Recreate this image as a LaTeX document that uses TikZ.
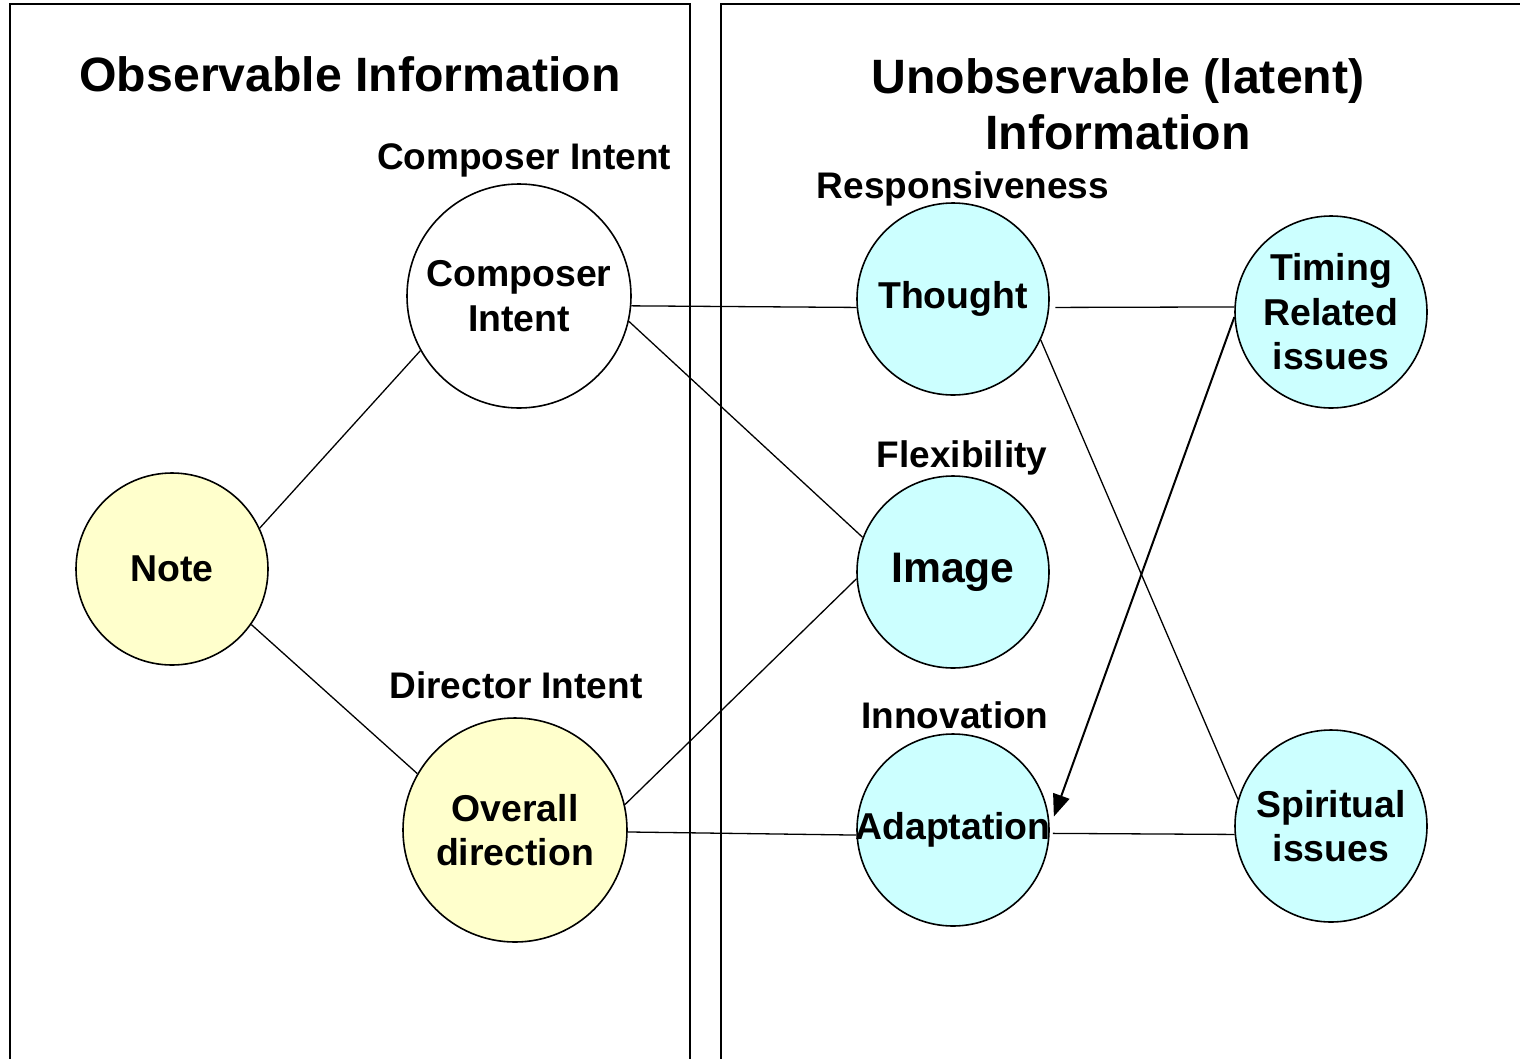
\documentclass[tikz,border=0pt]{standalone}
\usepackage{fontspec}
\setmainfont{Liberation Sans}
\usetikzlibrary{arrows.meta}
\definecolor{nyellow}{HTML}{FFFFCC}
\definecolor{ncyan}{HTML}{CCFFFF}
\begin{document}
\begin{tikzpicture}[x=1pt,y=-1pt,
  circ/.style={circle,draw=black,line width=1.6pt,inner sep=0pt,align=center,
    font=\fontsize{37.4}{44.5}\selectfont\bfseries},
  lbl/.style={font=\fontsize{37}{42}\selectfont\bfseries,inner sep=0pt},
  ttl/.style={font=\fontsize{48.2}{56}\selectfont\bfseries,inner sep=0pt,align=center},
  conn/.style={line width=1.3pt},
  panel/.style={line width=2.6pt}]
\useasboundingbox (0,0) rectangle (1520,1058);
\fill[white] (0,0) rectangle (1520,1058);
\begin{scope}
\clip (0,0) rectangle (1520,1058);
\draw[panel] (10,1080) -- (10,4) -- (690,4) -- (690,1080);
\draw[panel] (721,1080) -- (721,4) -- (1540,4);
\end{scope}
% titles
\node[ttl] (t1) at (350,74) {Observable Information};
\node[ttl] (t2) at (1118,104) {Unobservable (latent)\\Information};
% circles
\node[circ,fill=nyellow,minimum size=192pt] (note) at (172,569) {Note};
\node[circ,fill=white,minimum size=224pt] (comp) at (519,296) {Composer\\Intent};
\node[circ,fill=nyellow,minimum size=224pt] (over) at (515,830) {Overall\\direction};
\node[circ,fill=ncyan,minimum size=192pt] (thought) at (953,299) {Thought};
\node[circ,fill=ncyan,minimum size=192pt,font=\fontsize{42.7}{48}\selectfont\bfseries] (image) at (953,572) {Image};
\node[circ,fill=ncyan,minimum size=192pt] (adapt) at (953,830) {\makebox[140pt]{Adaptation}};
\node[circ,fill=ncyan,minimum size=192pt] (timing) at (1331,312) {Timing\\Related\\issues};
\node[circ,fill=ncyan,minimum size=192pt] (spirit) at (1331,826) {Spiritual\\issues};
% labels
\node[lbl] (l1) at (524,160) {Composer Intent};
\node[lbl] (l2) at (516,685) {Director Intent};
\node[lbl] (l3) at (963,189) {Responsiveness};
\node[lbl] (l4) at (962,458) {Flexibility};
\node[lbl] (l5) at (955,715) {Innovation};
% connectors
\draw[conn] (note.25) -- (comp.209);
\draw[conn] (note.-35) -- (over.150);
\draw[conn] (comp.-5.6) -- (thought.185);
\draw[conn] (comp.-13) -- (image.159);
\draw[conn] (over.13) -- (image.184);
\draw[conn] (over.-1.5) -- (adapt.183);
\draw[conn] ([xshift=6pt]thought.-5) -- (timing.177);
\draw[conn] (thought.-25) -- (spirit.164);
\draw[line width=2pt,-{Triangle[length=22pt,width=17pt]}] (timing.183.4) -- ([xshift=5pt]adapt.8);
\draw[conn] (spirit.185) -- ([xshift=3pt]adapt.-2.4);
\end{tikzpicture}
\end{document}
